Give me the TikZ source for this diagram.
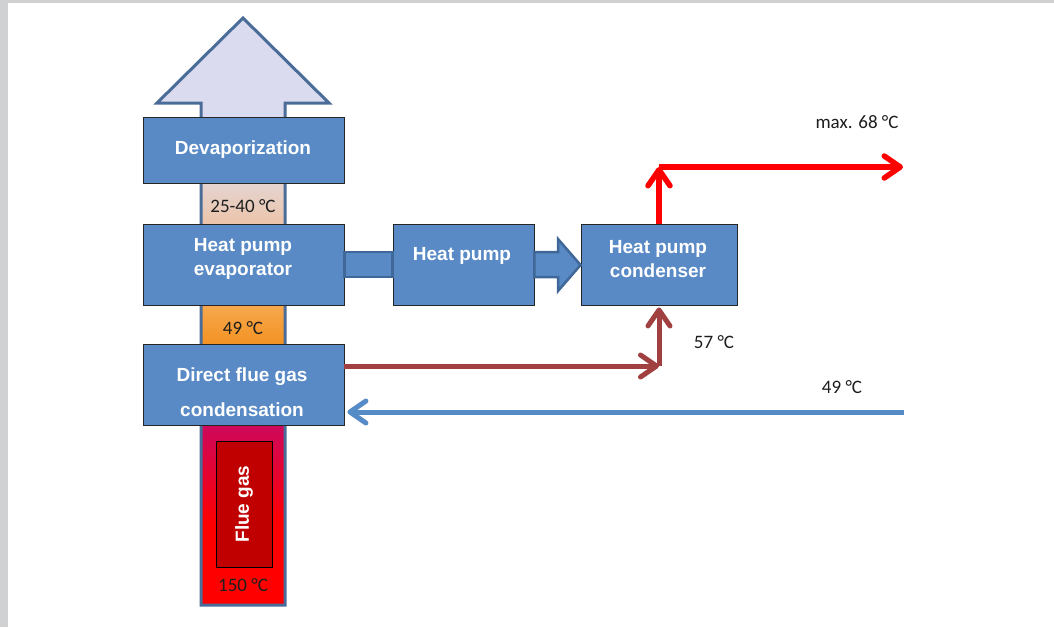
\documentclass[tikz,border=0pt]{standalone}
\usepackage{fontspec}
\setmainfont{Carlito}
\newfontfamily\af{Liberation Sans}
\usetikzlibrary{arrows.meta,calc}
\definecolor{boxblue}{RGB}{89,138,197}
\definecolor{colline}{RGB}{74,108,152}
\definecolor{lav}{RGB}{218,219,238}
\definecolor{blockdark}{RGB}{63,103,151}
\definecolor{brownr}{RGB}{160,64,64}
\definecolor{lineblue}{RGB}{85,140,200}
\definecolor{tempgray}{RGB}{30,30,30}
\definecolor{framegray}{RGB}{208,209,211}
\begin{document}
\begin{tikzpicture}[x=1pt,y=-1pt,
  box/.style={draw=black!85, line width=0.9pt, fill=boxblue, inner sep=0pt},
  btxt/.style={text=white, font=\af\bfseries\fontsize{19}{24}\selectfont, align=center, inner sep=0pt},
  temp/.style={text=tempgray, font=\fontsize{19}{22}\selectfont, inner sep=0pt},
  flow/.style={line width=5pt, -{Straight Barb[length=16pt,width=22pt,round]}},
]
\useasboundingbox (0,0) rectangle (1054,627);
\fill[white] (0,0) rectangle (1054,627);
\fill[framegray] (0,0) rectangle (8,627);
\fill[framegray] (0,0) rectangle (1054,3);

% column with arrow head
\fill[lav] (201,605) -- (201,103) -- (157,103) -- (243,18) -- (329,103) -- (285,103) -- (285,605) -- cycle;
\shade[top color={rgb,255:red,228;green,212;blue,208}, bottom color={rgb,255:red,236;green,196;blue,170}] (201,183) rectangle (285,224);
\shade[top color={rgb,255:red,246;green,168;blue,78}, bottom color={rgb,255:red,243;green,146;blue,34}] (201,305) rectangle (285,345);
\shade[top color={rgb,255:red,206;green,8;blue,92}, bottom color=red] (201,425) rectangle (285,525);
\fill[red] (201,524) rectangle (285,605);
\draw[colline, line width=3pt, line join=miter] (201,605) -- (201,103) -- (157,103) -- (243,18) -- (329,103) -- (285,103) -- (285,605) -- cycle;

% inner flue gas box
\node[draw=black, line width=0.8pt, fill={rgb,255:red,192;green,0;blue,0}, minimum width=56pt, minimum height=126pt, inner sep=0pt] (fg) at (244,504) {};
\node[btxt, rotate=90] (fgt) at (fg.center) {Flue gas};

% boxes
\node[box, minimum width=201pt, minimum height=66pt] (devap) at (243.5,150) {};
\node[box, minimum width=201pt, minimum height=81pt] (evap) at (243.5,264.5) {};
\node[box, minimum width=201pt, minimum height=81pt] (dfg) at (243.5,385) {};
\node[box, minimum width=141pt, minimum height=81pt] (hp) at (463.5,264.5) {};
\node[box, minimum width=156pt, minimum height=81pt] (cond) at (659,264.5) {};

\node[btxt] (devapt) at (243,150) {Devaporization};
\node[btxt] (evapt) at (243,259) {Heat pump\\evaporator};
\node[btxt] (hpt) at (462,256) {Heat pump};
\node[btxt] (condt) at (658,259) {Heat pump\\condenser};
\node[btxt, font=\af\bfseries\fontsize{19}{35}\selectfont] (dfgt) at (242,392) {Direct flue gas\\condensation};

% block arrows
\filldraw[fill=boxblue, draw=blockdark, line width=2.5pt] (evap.east |- 0,252) rectangle (hp.west |- 0,277);
\filldraw[fill=boxblue, draw=blockdark, line width=2.5pt, line join=miter]
  (hp.east |- 0,252) -- (558,252) -- (558,239) -- (cond.west |- 0,265) -- (558,291) -- (558,277) -- (hp.east |- 0,277) -- cycle;

% temperatures
\node[temp] (t1) at (243,206) {25-40 °C};
\node[temp] (t2) at (243,328) {49 °C};
\node[temp] (t3) at (243,585) {150 °C};
\node[temp] (t4) at (857,122) {max. 68 °C};
\node[temp] (t5) at (714,342) {57 °C};
\node[temp] (t6) at (842,387) {49 °C};

% flows
\coordinate (rc) at (cond.north |- 0,167);
\coordinate (rend) at (903,167);
\draw[flow, red, line width=5.5pt] (cond.north) -- (rc);
\draw[flow, red, line width=5.5pt] (rc) -- (rend);

\coordinate (bc) at (cond.south |- 0,366);
\draw[flow, brownr] (dfg.east |- 0,366) -- (bc);
\draw[flow, brownr] (bc) -- ($(cond.south)+(0,2)$);

\coordinate (bstart) at (904,412);
\draw[flow, lineblue] (bstart) -- ($(dfg.east |- 0,412)+(3,0)$);
\end{tikzpicture}
\end{document}
